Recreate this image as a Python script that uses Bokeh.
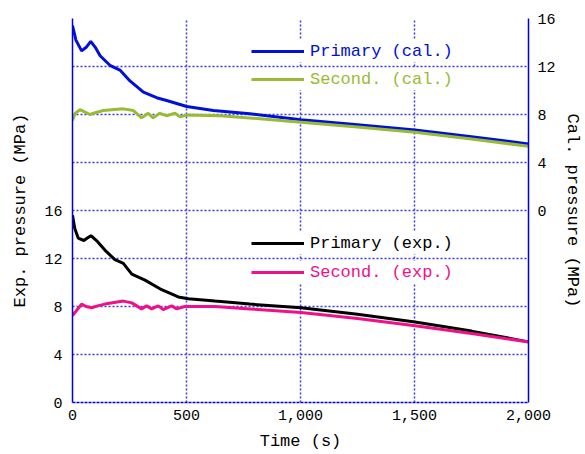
from bokeh.plotting import figure
from bokeh.models import (Range1d, LinearAxis, FixedTicker, NumeralTickFormatter,
                          Legend, LegendItem, Grid)
from bokeh.embed import file_html
from bokeh.resources import INLINE

# ---- data ----
t_pri_exp = [0, 10, 25, 50, 65, 81, 110, 142, 186, 223, 260, 318, 391, 464, 508, 625, 778, 1002, 1250, 1502, 1750, 2000]
v_pri_exp = [15.6, 14.5, 13.7, 13.5, 13.7, 13.9, 13.4, 12.7, 11.9, 11.6, 10.7, 10.2, 9.4, 8.8, 8.65, 8.45, 8.2, 7.9, 7.35, 6.7, 5.95, 5.05]

t_sec_exp = [0, 15, 40, 60, 84, 110, 142, 223, 260, 303, 325, 347, 376, 398, 435, 457, 493, 625, 778, 1002, 1250, 1502, 1750, 2000]
v_sec_exp = [7.25, 7.6, 8.2, 8.0, 7.9, 8.05, 8.2, 8.45, 8.3, 7.8, 8.05, 7.8, 8.05, 7.75, 8.05, 7.8, 8.0, 8.0, 7.8, 7.5, 7.0, 6.4, 5.75, 5.05]

t_pri_cal = [0, 15, 40, 60, 80, 100, 121, 164, 208, 252, 311, 369, 413, 501, 618, 778, 1002, 1250, 1502, 1750, 2000]
v_pri_cal = [15.4, 14.2, 13.3, 13.6, 14.1, 13.6, 12.9, 12.1, 11.7, 10.8, 9.86, 9.4, 9.17, 8.67, 8.33, 8.06, 7.56, 7.15, 6.7, 6.15, 5.55]

t_sec_cal = [0, 12, 33, 55, 77, 100, 135, 223, 267, 303, 332, 354, 383, 412, 449, 471, 501, 647, 822, 1002, 1250, 1502, 1750, 2000]
v_sec_cal = [7.5, 8.1, 8.4, 8.2, 8.0, 8.15, 8.33, 8.47, 8.33, 7.72, 8.1, 7.72, 8.1, 7.9, 8.1, 7.8, 7.95, 7.9, 7.64, 7.36, 6.95, 6.53, 5.95, 5.36]

x_ticks = [0, 500, 1000, 1500, 2000]
exp_ticks = [0, 4, 8, 12, 16]
cal_ticks = [0, 4, 8, 12, 16]
grid_y = [4, 8, 12, 16, 20, 24, 28, 32]
grid_x = [500, 1000, 1500]

labels = ["Primary (cal.)", "Second. (cal.)", "Primary (exp.)", "Second. (exp.)"]
colors = ["#0010d8", "#99bb33", "#000000", "#ee1188"]

FONT = "Liberation Mono"
BLUE = "#0000dd"
GRID = "#3b3be6"

p = figure(width=585, height=454, output_backend="svg", toolbar_location=None,
           x_range=Range1d(0, 2000), y_range=Range1d(0, 32),
           min_border_left=72, min_border_top=18, min_border_right=57, min_border_bottom=52)
p.outline_line_color = None
p.background_fill_color = "white"
p.border_fill_color = "white"
p.extra_y_ranges = {"cal": Range1d(-16, 16)}

p.xgrid.visible = False
p.ygrid.visible = False
p.add_layout(Grid(dimension=0, ticker=FixedTicker(ticks=grid_x), grid_line_color=GRID,
                  grid_line_dash="2 2", grid_line_width=1.5))
p.add_layout(Grid(dimension=1, ticker=FixedTicker(ticks=grid_y), grid_line_color=GRID,
                  grid_line_dash="2 2", grid_line_width=1.5))

def style_axis(ax, standoff):
    ax.major_tick_in = 0
    ax.major_tick_out = 0
    ax.minor_tick_in = 0
    ax.minor_tick_out = 0
    ax.major_label_text_font = FONT
    ax.major_label_text_font_size = "15px"
    ax.major_label_text_color = "black"
    ax.major_label_standoff = standoff
    ax.axis_label_text_font = FONT
    ax.axis_label_text_font_size = "17px"
    ax.axis_label_text_font_style = "normal"
    ax.axis_label_text_color = "black"
    ax.axis_line_color = BLUE
    ax.axis_line_width = 1.5

xa = p.xaxis[0]
xa.ticker = FixedTicker(ticks=x_ticks)
xa.formatter = NumeralTickFormatter(format="0,0")
xa.axis_label = "Time (s)"
style_axis(xa, 7)
xa.axis_label_standoff = 9
xa.axis_line_dash = "3 1"

ya = p.yaxis[0]
ya.ticker = FixedTicker(ticks=exp_ticks)
ya.axis_label = "Exp. pressure (MPa)"
style_axis(ya, 10)
ya.axis_label_standoff = 11

yr = LinearAxis(y_range_name="cal", ticker=FixedTicker(ticks=cal_ticks),
                axis_label="Cal. pressure (MPa)")
style_axis(yr, 9)
yr.axis_label_standoff = 4
p.add_layout(yr, "right")

r_pc = p.line(t_pri_cal, v_pri_cal, y_range_name="cal", line_color=colors[0], line_width=3)
r_sc = p.line(t_sec_cal, v_sec_cal, y_range_name="cal", line_color=colors[1], line_width=3)
r_pe = p.line(t_pri_exp, v_pri_exp, line_color=colors[2], line_width=3)
r_se = p.line(t_sec_exp, v_sec_exp, line_color=colors[3], line_width=3)

rends = [r_pc, r_sc, r_pe, r_se]
locs = [(179, 340), (179, 312), (179, 148), (179, 119)]
for r, lab, col, loc in zip(rends, labels, colors, locs):
    lg = Legend(items=[LegendItem(label=lab, renderers=[r])], location=loc,
                margin=0, padding=8, glyph_width=53, glyph_height=22, label_height=22,
                label_standoff=6, label_text_font=FONT, label_text_font_size="17px",
                label_text_color=col, border_line_color=None,
                background_fill_color="white", background_fill_alpha=1.0)
    p.add_layout(lg, "center")

open("out.html", "w").write(file_html(p, INLINE))
